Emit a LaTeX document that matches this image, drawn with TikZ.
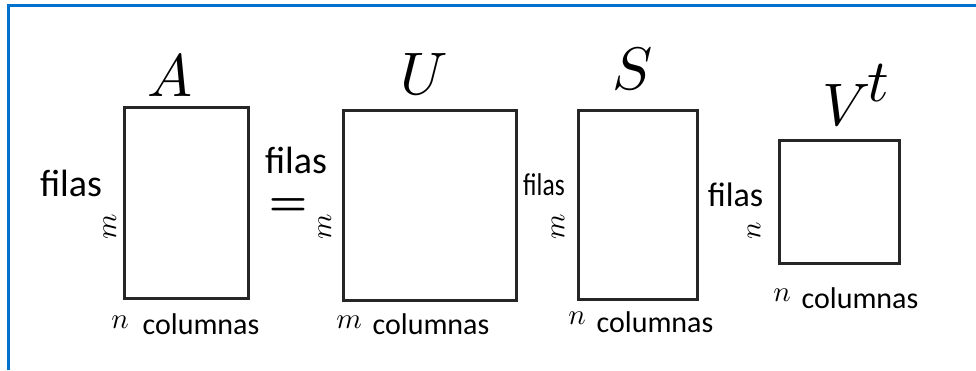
\documentclass[tikz,border=0pt]{standalone}
\usepackage{fontspec}
\setmainfont{Carlito}
\definecolor{frameblue}{RGB}{0,114,206}
\definecolor{boxgray}{RGB}{38,38,38}
\newcommand{\bigsym}[1]{\scalebox{6}{$#1$}}
\newcommand{\dimsym}[1]{\scalebox{2.9}{$#1$}}
\begin{document}
\begin{tikzpicture}[x=1pt,y=-1pt,
  mat/.style={draw=boxgray,line width=3pt},
  big/.style={inner sep=0},
  dim/.style={inner sep=0},
  rdim/.style={dim,rotate=90},
  fil/.style={inner sep=0,font=\fontsize{38}{38}\selectfont},
  col/.style={inner sep=0,font=\fontsize{30}{30}\selectfont}]
\useasboundingbox (0,0) rectangle (976,370);
\fill[white] (0,0) rectangle (976,370);
\draw[frameblue,line width=3pt] (8.5,370) -- (8.5,5.5) -- (976,5.5);
% boxes
\draw[mat] (124,107) rectangle (248,298);
\draw[mat] (343,110) rectangle (516,300);
\draw[mat] (578,110) rectangle (697,299);
\draw[mat] (779,140) rectangle (899,263);
% titles
\node[big] (tA) at (170,76) {\bigsym{A}};
\node[big] (tU) at (424,74) {\bigsym{U}};
\node[big] (tS) at (633,69) {\bigsym{S}};
\node[big,anchor=base west] (tV) at (822,125) {\bigsym{V}\kern-3pt\raisebox{24pt}{\bigsym{t}}};
% equals
\node[inner sep=0] (eq) at (288,207) {\scalebox{4.3}{\boldmath$=$}};
% filas
\node[fil] (fA) at (71,183) {filas};
\node[fil] (fU) at (296,160) {filas};
\node[inner sep=0,font=\fontsize{30}{30}\selectfont] (fS) at (544,185) {\scalebox{0.85}[1.05]{filas}};
\node[inner sep=0,font=\fontsize{34}{34}\selectfont] (fV) at (735.5,195) {filas};
% rotated row dims
\node[rdim] (rA) at (110,227) {\dimsym{m}};
\node[rdim] (rU) at (325,227) {\dimsym{m}};
\node[rdim] (rS) at (558,227) {\dimsym{m}};
\node[rdim] (rV) at (754,231) {\dimsym{n}};
% column dims
\node[dim] (cA) at (120,322) {\dimsym{n}};
\node[col] (colA) at (201,324) {columnas};
\node[dim] (cU) at (349,322) {\dimsym{m}};
\node[col] (colU) at (431,324) {columnas};
\node[dim] (cS) at (577,318) {\dimsym{n}};
\node[col] (colS) at (655,322) {columnas};
\node[dim] (cV) at (782,295) {\dimsym{n}};
\node[col] (colV) at (860,298) {columnas};
\end{tikzpicture}
\end{document}
